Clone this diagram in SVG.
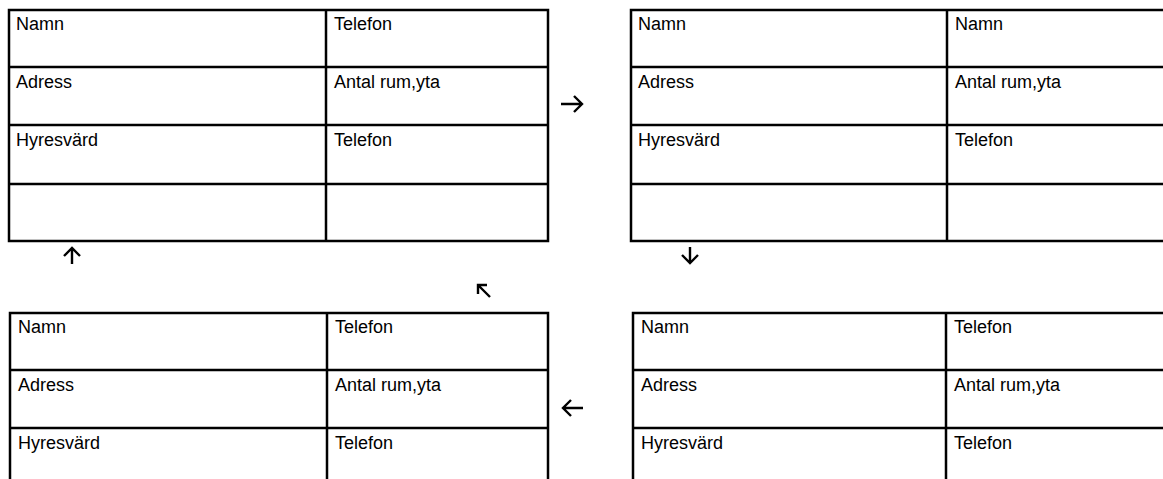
<svg xmlns="http://www.w3.org/2000/svg" width="1163" height="479" viewBox="0 0 1163 479">
<style>
.b{fill:none;stroke:#000;stroke-width:2.5}
.t{font-family:"Liberation Sans",Arial,sans-serif;font-size:18px;fill:#000}
.a{fill:none;stroke:#000;stroke-width:2.4;stroke-linecap:butt;stroke-linejoin:miter}
</style>
<rect width="1163" height="479" fill="#fff"/>
<g id="table1">
<rect class="b" x="9" y="10" width="539" height="231"/>
<path class="b" d="M326 10V241M9 67H548M9 125H548M9 184H548"/>
<text class="t" x="16" y="30">Namn</text>
<text class="t" x="334" y="30">Telefon</text>
<text class="t" x="16" y="88">Adress</text>
<text class="t" x="334" y="88">Antal rum,yta</text>
<text class="t" x="16" y="146">Hyresvärd</text>
<text class="t" x="334" y="146">Telefon</text>
</g>
<g id="table2">
<rect class="b" x="631" y="10" width="560" height="231"/>
<path class="b" d="M947 10V241M631 67H1170M631 125H1170M631 184H1170"/>
<text class="t" x="638" y="30">Namn</text>
<text class="t" x="955" y="30">Namn</text>
<text class="t" x="638" y="88">Adress</text>
<text class="t" x="955" y="88">Antal rum,yta</text>
<text class="t" x="638" y="146">Hyresvärd</text>
<text class="t" x="955" y="146">Telefon</text>
</g>
<g id="table3">
<rect class="b" x="10" y="313" width="538" height="200"/>
<path class="b" d="M327 313V490M10 370H548M10 428H548"/>
<text class="t" x="18" y="333">Namn</text>
<text class="t" x="335" y="333">Telefon</text>
<text class="t" x="18" y="391">Adress</text>
<text class="t" x="335" y="391">Antal rum,yta</text>
<text class="t" x="18" y="449">Hyresvärd</text>
<text class="t" x="335" y="449">Telefon</text>
</g>
<g id="table4">
<rect class="b" x="633" y="313" width="560" height="200"/>
<path class="b" d="M946 313V490M633 370H1170M633 428H1170"/>
<text class="t" x="641" y="333">Namn</text>
<text class="t" x="954" y="333">Telefon</text>
<text class="t" x="641" y="391">Adress</text>
<text class="t" x="954" y="391">Antal rum,yta</text>
<text class="t" x="641" y="449">Hyresvärd</text>
<text class="t" x="954" y="449">Telefon</text>
</g>
<g id="connectors">
<path class="a" d="M561 104H582M574 96L582 104L574 112"/>
<path class="a" d="M72 264V248M64 256L72 248L80 256"/>
<path class="a" d="M690 247V263M682 255L690 263L698 255"/>
<path class="a" d="M490 297L478 285M478 294V285H487"/>
<path class="a" d="M583 408H563M571 400L563 408L571 416"/>
</g>
</svg>
